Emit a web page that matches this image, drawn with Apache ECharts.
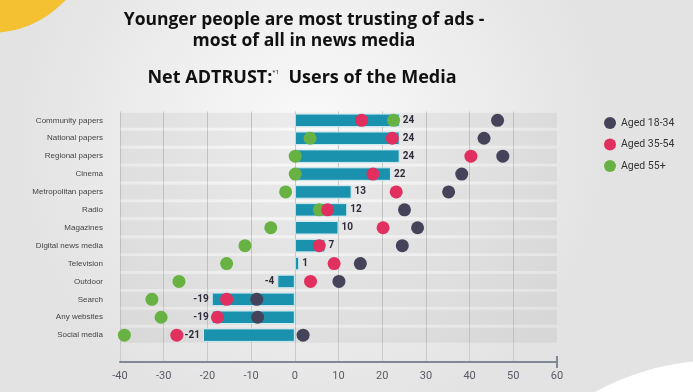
<!DOCTYPE html>
<html>
<head>
<meta charset="utf-8">
<script src="https://cdn.jsdelivr.net/npm/echarts@6/dist/echarts.min.js"></script>
<style>html,body{margin:0;padding:0;}#c{width:693px;height:392px;}</style>
</head>
<body>
<div id="c"></div>
<script>
const categories = ['Community papers','National papers','Regional papers','Cinema','Metropolitan papers','Radio','Magazines','Digital news media','Television','Outdoor','Search','Any websites','Social media'];
const netAll = [24,24,24,22,13,12,10,7,1,-4,-19,-19,-21];
const aged1834 = [46.4,43.3,47.6,38.2,35.2,25.1,28.1,24.6,15.0,10.1,-8.7,-8.5,1.9];
const aged3554 = [15.3,22.3,40.3,17.9,23.2,7.5,20.2,5.6,9.0,3.6,-15.6,-17.7,-27.0];
const aged55 = [22.6,3.5,0.1,0.1,-2.1,5.6,-5.5,-11.4,-15.6,-26.5,-32.7,-30.6,-39.0];
const xTicks = [-40,-30,-20,-10,0,10,20,30,40,50,60];

const chart = echarts.init(document.getElementById('c'));
const yData = categories.concat(['']);
const toPts = arr => arr.map((v,i)=>[v, categories[i]]);
const dotSize = 13;
chart.setOption({
  backgroundColor: {type:'radial', x:0.45, y:0.35, r:0.75,
    colorStops:[{offset:0,color:'#fafafa'},{offset:1,color:'#e3e3e3'}]},
  animation:false,
  graphic:[
    {type:'circle', shape:{cx:-10, cy:-70, r:103}, style:{fill:'#f4c133'}, z:-1},
    {type:'circle', shape:{cx:720, cy:620, r:260}, style:{fill:'#ffffff'}, z:-1}
  ],
  title:[
    {text:'Younger people are most trusting of ads -\nmost of all in news media', left:299, top:5, textAlign:'center',
      textStyle:{fontFamily:'Open Sans', fontWeight:'bold', fontSize:17.5, lineHeight:21, color:'#111'}},
    {text:'Net ADTRUST:{s|*1}  Users of the Media', left:297, top:64, textAlign:'center',
      textStyle:{fontFamily:'Open Sans', fontWeight:'bold', fontSize:18, color:'#111',
        rich:{s:{fontSize:6, verticalAlign:'top', fontWeight:'normal', color:'#111', padding:[0,0,10,0]}}}}
  ],
  legend:{
    orient:'vertical', left:599, top:112, itemWidth:12, itemHeight:12, itemGap:9.5, icon:'circle',
    data:['Aged 18-34','Aged 35-54','Aged 55+'],
    textStyle:{fontFamily:'Roboto', fontSize:10.5, color:'#333'}
  },
  grid:{left:120, right:136, top:111.4, bottom:30},
  xAxis:{type:'value', min:-40, max:60, interval:10,
    axisLine:{show:true, lineStyle:{color:'#7f8894', width:2}, symbol:['none','rect'], symbolSize:[12,2]},
    axisTick:{show:false},
    axisLabel:{fontFamily:'Roboto', fontSize:11, color:'#5a5a66', margin:9,
      formatter: v => xTicks.includes(v) ? String(v) : ''},
    splitLine:{show:true, showMaxLine:false, lineStyle:{color:'#cacaca', width:1}}
  },
  yAxis:[
    {type:'category', data:yData, inverse:true,
      axisLine:{show:false}, axisTick:{show:false}, splitLine:{show:false},
      axisLabel:{fontFamily:'Liberation Sans', fontSize:8, color:'#444', margin:17}},
    {type:'category', data:yData, inverse:true, show:false}
  ],
  series:[
    {type:'bar', yAxisIndex:1, data:categories.map(()=>0), barWidth:15, silent:true,
      showBackground:true, backgroundStyle:{color:'rgba(0,0,0,0.05)'}, itemStyle:{color:'rgba(0,0,0,0)'}},
    {type:'bar', name:'Net', yAxisIndex:0, barWidth:13.5, z:3,
      itemStyle:{color:'#1a92ad', borderColor:'#cdebf2', borderWidth:1},
      label:{show:true, fontFamily:'Roboto', fontWeight:'bold', fontSize:10, color:'#2c2c3c', distance:3},
      data: netAll.map(v => ({value:v, label:{position: v<0 ? 'left' : 'right'}}))
    },
    {type:'scatter', name:'Aged 55+', data:toPts(aged55), symbolSize:dotSize, z:4, itemStyle:{color:'#68b243', opacity:1}},
    {type:'scatter', name:'Aged 35-54', data:toPts(aged3554), symbolSize:dotSize, z:5, itemStyle:{color:'#e12f5f', opacity:1}},
    {type:'scatter', name:'Aged 18-34', data:toPts(aged1834), symbolSize:dotSize, z:6, itemStyle:{color:'#45435a', opacity:1}}
  ]
});
</script>
</body>
</html>
